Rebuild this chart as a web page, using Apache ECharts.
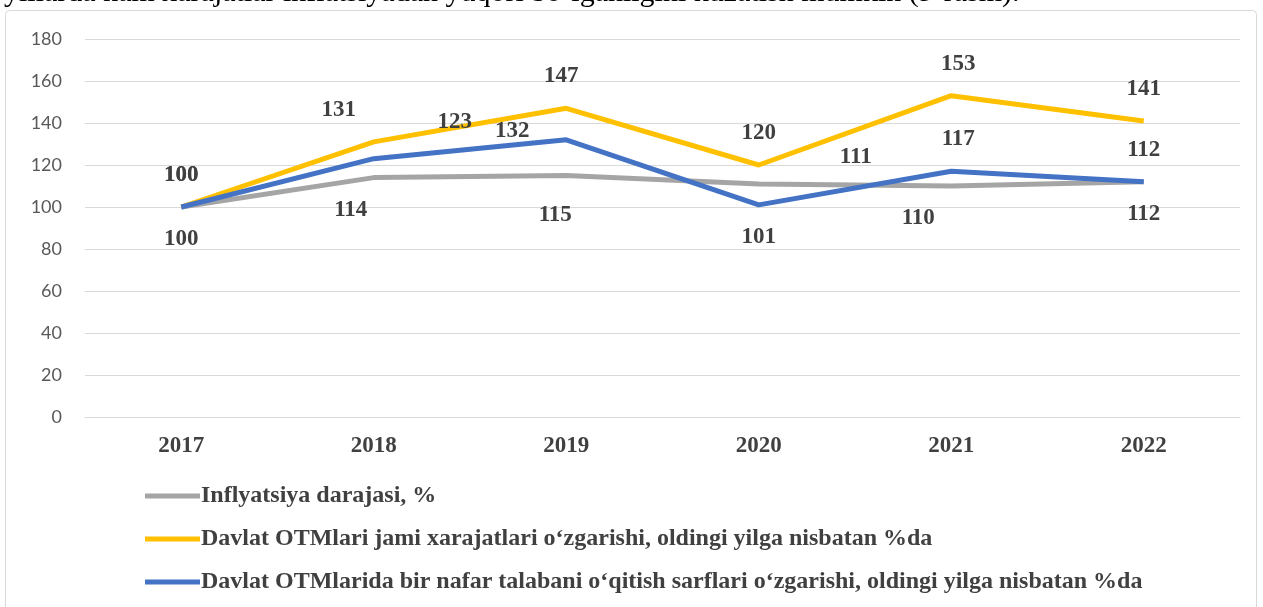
<!DOCTYPE html>
<html>
<head>
<meta charset="utf-8">
<script src="https://cdn.jsdelivr.net/npm/echarts@6/dist/echarts.min.js"></script>
<style>
  html, body { margin: 0; padding: 0; background: #fff; }
  #chart { width: 1263px; height: 607px; }
</style>
</head>
<body>
<div id="chart"></div>
<script>
// data
const years = ["2017", "2018", "2019", "2020", "2021", "2022"];
const inflyatsiya = [100, 114, 115, 111, 110, 112];
const jamiXarajat = [100, 131, 147, 120, 153, 141];
const talabaSarf = [100, 123, 132, 101, 117, 112];
const seriesNames = [
  "Inflyatsiya darajasi, %",
  "Davlat OTMlari jami xarajatlari o‘zgarishi, oldingi yilga nisbatan %da",
  "Davlat OTMlarida bir nafar talabani o‘qitish sarflari o‘zgarishi, oldingi yilga nisbatan %da"
];
const seriesColors = ["#a5a5a5", "#ffc000", "#4472c4"];
const yTicks = [0, 20, 40, 60, 80, 100, 120, 140, 160, 180];

const serif = "'Liberation Serif', 'DejaVu Serif', serif";
const labelStyle = {
  show: true,
  fontFamily: serif,
  fontWeight: "bold",
  fontSize: 23,
  color: "#404040",
  distance: 20
};

// label placement as in the original (position + small nudges)
function withLabels(values, pos, offsets) {
  return values.map((v, i) => {
    const o = offsets[i] || [0, 0];
    const p = Array.isArray(pos) ? pos[i] : pos;
    return { value: v, label: { position: p, offset: o } };
  });
}

function lineSeries(i, data, z) {
  return {
    name: seriesNames[i],
    type: "line",
    symbol: "circle",
    symbolSize: 1,
    showSymbol: true,
    color: seriesColors[i],
    itemStyle: { color: "rgba(0,0,0,0)", borderWidth: 0 },
    lineStyle: { width: 5, color: seriesColors[i] },
    label: labelStyle,
    emphasis: { disabled: true },
    data: data,
    z: z
  };
}

const chart = echarts.init(document.getElementById("chart"));
chart.setOption({
  animation: false,
  graphic: [
    {
      type: "rect",
      shape: { x: 5.5, y: 10.5, width: 1251, height: 610, r: 4 },
      style: { fill: "none", stroke: "#d9d9d9", lineWidth: 1 },
      z: -1
    },
    {
      type: "text",
      left: 4,
      top: -22,
      style: {
        text: "yillarda ham xarajatlar inflatsiyadan yuqori bo‘lganligini kuzatish mumkin (9-rasm).",
        font: "30px " + serif,
        fill: "#000"
      }
    }
  ],
  grid: { left: 85, right: 23, top: 39, bottom: 190 },
  legend: {
    orient: "vertical",
    left: 140,
    top: 479,
    itemGap: 19,
    itemWidth: 55,
    itemHeight: 5,
    icon: "rect",
    data: seriesNames.map((n, i) => ({
      name: n,
      itemStyle: { color: seriesColors[i], borderWidth: 0 }
    })),
    textStyle: {
      fontFamily: serif,
      fontWeight: "bold",
      fontSize: 24,
      color: "#404040",
      padding: [0, 0, 0, -4]
    }
  },
  xAxis: {
    type: "category",
    data: years,
    boundaryGap: true,
    axisLine: { lineStyle: { color: "#d9d9d9" } },
    axisTick: { show: false },
    axisLabel: {
      margin: 18,
      fontFamily: serif,
      fontWeight: "bold",
      fontSize: 23,
      color: "#404040"
    }
  },
  yAxis: {
    type: "value",
    min: yTicks[0],
    max: yTicks[yTicks.length - 1],
    interval: 20,
    axisLine: { show: false },
    axisTick: { show: false },
    splitLine: { lineStyle: { color: "#d9d9d9", width: 1 } },
    axisLabel: {
      margin: 23,
      fontFamily: "Lato, 'Open Sans', sans-serif",
      fontSize: 18,
      color: "#595959"
    }
  },
  series: [
    lineSeries(0, withLabels(inflyatsiya, "bottom",
      [[0, 0], [-23, 0], [-11, 8], [97, -59], [-33, 0], [0, 0]]), 2),
    lineSeries(1, withLabels(jamiXarajat, "top",
      [[0, 0], [-35, 0], [-5, 0], [0, 0], [7, 0], [0, 0]]), 3),
    lineSeries(2, withLabels(talabaSarf, ["top", "top", "top", "bottom", "top", "top"],
      [[0, 0], [81, -5], [-54, 23], [0, 0], [7, 0], [0, 0]]), 4)
  ]
});
</script>
</body>
</html>
